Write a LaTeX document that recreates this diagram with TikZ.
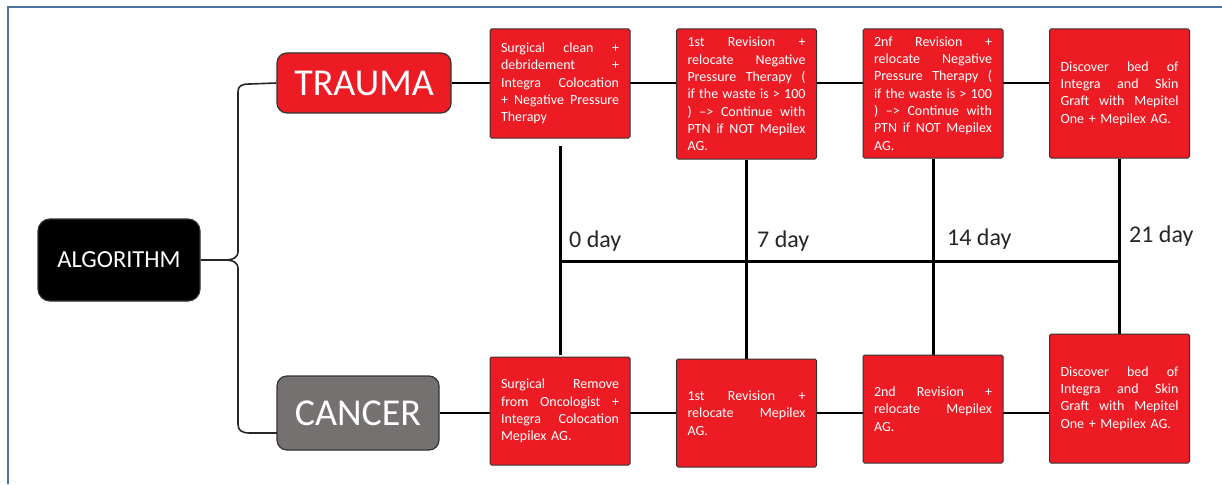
\documentclass[tikz,border=0pt]{standalone}
\usepackage{fontspec}
\setmainfont{Carlito}
\usetikzlibrary{backgrounds,calc}
\definecolor{boxred}{HTML}{ED1C24}
\definecolor{cgray}{HTML}{767171}
\definecolor{edgegray}{HTML}{333333}
\definecolor{framecol}{HTML}{4A73A0}
\newcommand\jl[1]{\leavevmode\hbox to 118pt{\spaceskip=0.23em plus 1fil\relax #1}}
\begin{document}
\begin{tikzpicture}[x=1pt,y=-1pt,
  card/.style={draw=edgegray, line width=1pt, fill=boxred, text=white, rounded corners=1.5pt,
    inner sep=0pt, text width=118pt, align=left, minimum width=140pt,
    font=\fontsize{14pt}{17.3pt}\selectfont},
  headbox/.style={draw=edgegray, line width=1.2pt, text=white, inner sep=0pt, rounded corners=10pt},
  link/.style={line width=2.4pt, black},
  timeline/.style={line width=3pt, black},
  brace/.style={line width=1.6pt, black!85},
  daylabel/.style={anchor=base west, inner sep=0pt, font=\fontsize{24pt}{28pt}\selectfont, text=black!85}
]
\useasboundingbox (0,0) rectangle (1222,484);

% head nodes
\node[headbox, fill=black, minimum width=162pt, minimum height=82pt, rounded corners=12pt,
  font=\fontsize{24.5pt}{28pt}\selectfont] (algo) at (119,260) {ALGORITHM};
\node[headbox, fill=boxred, minimum width=174pt, minimum height=60pt,
  font=\fontsize{38pt}{44pt}\selectfont] (trauma) at (364,83) {TRAUMA};
\node[headbox, fill=cgray, minimum width=162pt, minimum height=74pt,
  font=\fontsize{38pt}{44pt}\selectfont] (cancer) at (358,413) {CANCER};

% top row
\node[card, minimum height=109pt] (t1) at (560,83.5) {\jl{Surgical clean +}\\\jl{debridement +}\\\jl{Integra Colocation}\\\jl{+ Negative Pressure}\\Therapy};
\node[card, minimum height=130pt] (t2) at (746.5,94) {\jl{1st Revision +}\\\jl{relocate Negative}\\\jl{Pressure Therapy (}\\\jl{if the waste is > 100}\\\jl{) –> Continue with}\\\jl{PTN if NOT Mepilex}\\AG.};
\node[card, minimum height=129pt] (t3) at (933,93.5) {\jl{2nf Revision +}\\\jl{relocate Negative}\\\jl{Pressure Therapy (}\\\jl{if the waste is > 100}\\\jl{) –> Continue with}\\\jl{PTN if NOT Mepilex}\\AG.};
\node[card, minimum height=129pt] (t4) at (1119.5,93.5) {\jl{Discover bed of}\\\jl{Integra and Skin}\\\jl{Graft with Mepitel}\\One + Mepilex AG.};

% bottom row
\node[card, minimum height=108pt] (b1) at (560,411) {\jl{Surgical Remove}\\\jl{from Oncologist +}\\\jl{Integra Colocation}\\Mepilex AG.};
\node[card, minimum height=108pt] (b2) at (746.5,413) {\jl{1st Revision +}\\\jl{relocate Mepilex}\\AG.};
\node[card, minimum height=108pt] (b3) at (933,409) {\jl{2nd Revision +}\\\jl{relocate Mepilex}\\AG.};
\node[card, minimum height=129pt] (b4) at (1119.5,398.5) {\jl{Discover bed of}\\\jl{Integra and Skin}\\\jl{Graft with Mepitel}\\One + Mepilex AG.};

% day labels
\node[daylabel] (d0) at (569,247) {0 day};
\node[daylabel] (d7) at (757,247) {7 day};
\node[daylabel] (d14) at (947,245) {14 day};
\node[daylabel] (d21) at (1129,242) {21 day};

\coordinate (cin) at (277,433);
\coordinate (bj) at (224,260);
\coordinate (h0) at ($(t1.south |- 0,261)$);
\coordinate (h21) at ($(t4.south |- 0,261)$);

\begin{scope}[on background layer]
  \fill[white] (0,0) rectangle (1222,484);
  \draw[framecol, line width=1.5pt] (8,484) -- (8,7) -- (1222,7);
  \draw[link] (trauma.east) -- (trauma.east -| t4.west);
  \draw[link] (cancer.east) -- (cancer.east -| b4.west);
  \draw[timeline] ($(t1.south)+(0,7)$) -- ($(b1.north)+(0,-2)$);
  \draw[timeline] (t2.south) -- (b2.north);
  \draw[timeline] (t3.south) -- (b3.north);
  \draw[timeline] (t4.south) -- (b4.north);
  \draw[timeline] (h0) -- (h21);
  \draw[brace] (algo.east) -- (bj) .. controls (234,260) and (238,257) .. (238,252) -- (238,92)
     .. controls (238,86) and (241,84) .. (250,84) -- (trauma.west);
  \draw[brace] (bj) .. controls (234,260) and (238,263) .. (238,268) -- (238,424)
     .. controls (238,430) and (241,433) .. (250,433) -- (cin);
\end{scope}
\end{tikzpicture}
\end{document}
